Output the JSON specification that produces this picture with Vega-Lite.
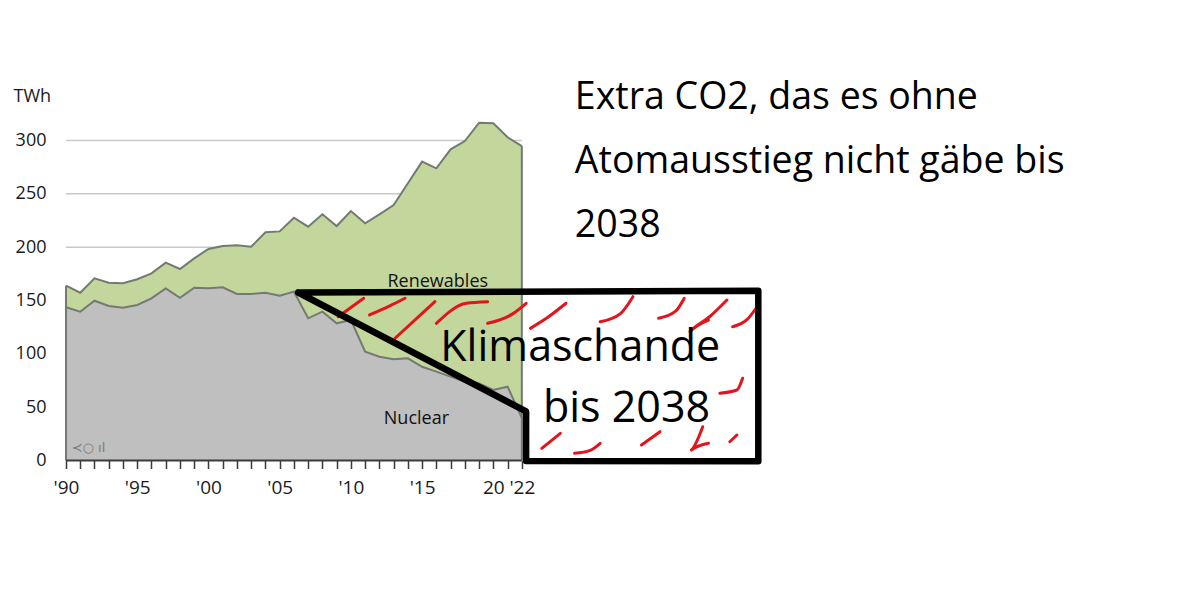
{
  "$schema": "https://vega.github.io/schema/vega-lite/v6.json",
  "width": 698,
  "height": 320,
  "autosize": {"type": "none"},
  "padding": {"left": 66, "top": 140.5, "right": 436, "bottom": 150.5},
  "background": "white",
  "config": {"view": {"stroke": null}, "font": "Open Sans", "axis": {"labelOverlap": false, "labelBound": false, "labelFlush": false, "grid": false, "domain": false}},
  "data": {"values": [{"kind": "annotation"}]},
  "datasets": {
    "energy": [
      {"year": 1990, "nuclear": 143.6, "total": 163.9},
      {"year": 1991, "nuclear": 139.5, "total": 157.3},
      {"year": 1992, "nuclear": 149.8, "total": 170.8},
      {"year": 1993, "nuclear": 144.8, "total": 166.7},
      {"year": 1994, "nuclear": 143.3, "total": 166.1},
      {"year": 1995, "nuclear": 145.8, "total": 169.9},
      {"year": 1996, "nuclear": 152.0, "total": 175.5},
      {"year": 1997, "nuclear": 161.4, "total": 185.5},
      {"year": 1998, "nuclear": 152.6, "total": 179.5},
      {"year": 1999, "nuclear": 162.0, "total": 189.5},
      {"year": 2000, "nuclear": 161.4, "total": 198.3},
      {"year": 2001, "nuclear": 162.4, "total": 201.1},
      {"year": 2002, "nuclear": 156.1, "total": 201.7},
      {"year": 2003, "nuclear": 156.1, "total": 200.5},
      {"year": 2004, "nuclear": 157.3, "total": 213.9},
      {"year": 2005, "nuclear": 154.5, "total": 214.8},
      {"year": 2006, "nuclear": 158.3, "total": 227.6},
      {"year": 2007, "nuclear": 133.3, "total": 219.2},
      {"year": 2008, "nuclear": 139.5, "total": 230.8},
      {"year": 2009, "nuclear": 128.6, "total": 219.8},
      {"year": 2010, "nuclear": 131.7, "total": 233.9},
      {"year": 2011, "nuclear": 102.0, "total": 222.4},
      {"year": 2012, "nuclear": 97.3, "total": 230.8},
      {"year": 2013, "nuclear": 94.9, "total": 239.5},
      {"year": 2014, "nuclear": 95.8, "total": 259.9},
      {"year": 2015, "nuclear": 87.9, "total": 280.2},
      {"year": 2016, "nuclear": 83.3, "total": 273.9},
      {"year": 2017, "nuclear": 78.6, "total": 291.7},
      {"year": 2018, "nuclear": 73.9, "total": 299.5},
      {"year": 2019, "nuclear": 72.3, "total": 316.7},
      {"year": 2020, "nuclear": 66.1, "total": 316.1},
      {"year": 2021, "nuclear": 69.2, "total": 303.0},
      {"year": 2022, "nuclear": 40.0, "total": 294.8}
    ],
    "grid": [{"twh": 50}, {"twh": 100}, {"twh": 150}, {"twh": 200}, {"twh": 250}, {"twh": 300}],
    "outline": [
      {"step": 0, "year": 2006.3, "twh": 157.5},
      {"step": 1, "year": 2038.6, "twh": 159.2},
      {"step": 2, "year": 2038.6, "twh": -0.6},
      {"step": 3, "year": 2022.3, "twh": -0.4},
      {"step": 4, "year": 2022.3, "twh": 46},
      {"step": 5, "year": 2006.3, "twh": 157.5}
    ],
    "hatch": [
      {"stroke": 1, "step": 0, "year": 2009.1, "twh": 134.8},
      {"stroke": 1, "step": 1, "year": 2010.9, "twh": 152.1},
      {"stroke": 2, "step": 0, "year": 2011.3, "twh": 136.4},
      {"stroke": 2, "step": 1, "year": 2012.8, "twh": 145.5},
      {"stroke": 2, "step": 2, "year": 2013.8, "twh": 152.1},
      {"stroke": 3, "step": 0, "year": 2013.1, "twh": 114.6},
      {"stroke": 3, "step": 1, "year": 2015.9, "twh": 148.9},
      {"stroke": 4, "step": 0, "year": 2016.0, "twh": 128.6},
      {"stroke": 4, "step": 1, "year": 2018.1, "twh": 147.4},
      {"stroke": 4, "step": 2, "year": 2019.6, "twh": 148.9},
      {"stroke": 5, "step": 0, "year": 2019.6, "twh": 128.6},
      {"stroke": 5, "step": 1, "year": 2021.3, "twh": 137.0},
      {"stroke": 5, "step": 2, "year": 2022.3, "twh": 147.4},
      {"stroke": 6, "step": 0, "year": 2022.6, "twh": 123.9},
      {"stroke": 6, "step": 1, "year": 2023.8, "twh": 134.0},
      {"stroke": 6, "step": 2, "year": 2025.1, "twh": 147.4},
      {"stroke": 7, "step": 0, "year": 2027.5, "twh": 130.1},
      {"stroke": 7, "step": 1, "year": 2028.9, "twh": 137.5},
      {"stroke": 7, "step": 2, "year": 2029.8, "twh": 153.6},
      {"stroke": 8, "step": 0, "year": 2031.6, "twh": 133.3},
      {"stroke": 8, "step": 1, "year": 2032.8, "twh": 140.0},
      {"stroke": 8, "step": 2, "year": 2033.4, "twh": 152.1},
      {"stroke": 9, "step": 0, "year": 2035.1, "twh": 131.7},
      {"stroke": 9, "step": 1, "year": 2033.8, "twh": 120.7},
      {"stroke": 9, "step": 2, "year": 2035.2, "twh": 135.0},
      {"stroke": 9, "step": 3, "year": 2036.4, "twh": 150.5},
      {"stroke": 10, "step": 0, "year": 2036.8, "twh": 125.4},
      {"stroke": 10, "step": 1, "year": 2037.8, "twh": 132.0},
      {"stroke": 10, "step": 2, "year": 2038.6, "twh": 145.8},
      {"stroke": 11, "step": 0, "year": 2035.9, "twh": 63.0},
      {"stroke": 11, "step": 1, "year": 2037.1, "twh": 66.1},
      {"stroke": 11, "step": 2, "year": 2037.5, "twh": 77.1},
      {"stroke": 12, "step": 0, "year": 2023.4, "twh": 11.4},
      {"stroke": 12, "step": 1, "year": 2024.7, "twh": 25.5},
      {"stroke": 13, "step": 0, "year": 2025.7, "twh": 6.7},
      {"stroke": 13, "step": 1, "year": 2026.8, "twh": 9.5},
      {"stroke": 13, "step": 2, "year": 2027.5, "twh": 16.1},
      {"stroke": 14, "step": 0, "year": 2030.4, "twh": 14.5},
      {"stroke": 14, "step": 1, "year": 2031.7, "twh": 27.0},
      {"stroke": 15, "step": 0, "year": 2034.7, "twh": 31.7},
      {"stroke": 15, "step": 1, "year": 2033.9, "twh": 9.8},
      {"stroke": 15, "step": 2, "year": 2035.1, "twh": 16.1},
      {"stroke": 16, "step": 0, "year": 2036.6, "twh": 17.6},
      {"stroke": 16, "step": 1, "year": 2037.1, "twh": 23.9}
    ]
  },
  "layer": [
    {
      "data": {"name": "grid"},
      "mark": {"type": "rule", "color": "#c9c9c9", "strokeWidth": 1.5},
      "encoding": {
        "x": {"datum": 1990, "type": "quantitative",
          "scale": {"domain": [1990, 2039], "nice": false, "zero": false},
          "axis": {"title": null, "tickCount": 49, "tickMinStep": 1, "tickSize": 8, "tickColor": "#3a3a3a", "tickWidth": 1.5, "tickOpacity": {"condition": {"test": "datum.value > 2022", "value": 0}, "value": 1}, "labelExpr": "datum.value == 1990 ? \"'90\" : datum.value == 1995 ? \"'95\" : datum.value == 2000 ? \"'00\" : datum.value == 2005 ? \"'05\" : datum.value == 2010 ? \"'10\" : datum.value == 2015 ? \"'15\" : datum.value == 2020 ? \"20\" : datum.value == 2022 ? \"'22\" : \"\"", "labelFontSize": 19, "labelColor": "#1a1a1a", "labelPadding": 10, "labelOverlap": false, "labelFont": "Open Sans"}},
        "x2": {"datum": 2022},
        "y": {"field": "twh", "type": "quantitative",
          "scale": {"domain": [0, 300], "nice": false, "zero": true},
          "axis": {"title": "TWh", "titleAngle": 0, "titleAlign": "left", "titleBaseline": "alphabetic", "titleX": -53, "titleY": -39, "titleFontSize": 18, "titleFontWeight": "normal", "titleColor": "#1a1a1a", "titleFont": "Open Sans", "ticks": false, "tickCount": 6, "labelFontSize": 18, "labelColor": "#1a1a1a", "labelPadding": 20, "labelFont": "Open Sans"}}
      }
    },
    {
      "data": {"name": "energy"},
      "mark": {"type": "area", "color": "#c3d69b"},
      "encoding": {
        "x": {"field": "year", "type": "quantitative",
          "axis": {"title": null, "tickCount": 49, "tickMinStep": 1, "tickSize": 8, "tickColor": "#3a3a3a", "tickWidth": 1.5, "tickOpacity": {"condition": {"test": "datum.value > 2022", "value": 0}, "value": 1}, "labelExpr": "datum.value == 1990 ? \"'90\" : datum.value == 1995 ? \"'95\" : datum.value == 2000 ? \"'00\" : datum.value == 2005 ? \"'05\" : datum.value == 2010 ? \"'10\" : datum.value == 2015 ? \"'15\" : datum.value == 2020 ? \"20\" : datum.value == 2022 ? \"'22\" : \"\"", "labelFontSize": 19, "labelColor": "#1a1a1a", "labelPadding": 10, "labelOverlap": false, "labelFont": "Open Sans"}},
        "y": {"field": "total", "type": "quantitative",
          "axis": {"title": "TWh", "titleAngle": 0, "titleAlign": "left", "titleBaseline": "alphabetic", "titleX": -53, "titleY": -39, "titleFontSize": 18, "titleFontWeight": "normal", "titleColor": "#1a1a1a", "titleFont": "Open Sans", "ticks": false, "tickCount": 6, "labelFontSize": 18, "labelColor": "#1a1a1a", "labelPadding": 20, "labelFont": "Open Sans"}}
      }
    },
    {
      "data": {"name": "energy"},
      "mark": {"type": "area", "color": "#bfbfbf"},
      "encoding": {
        "x": {"field": "year", "type": "quantitative"},
        "y": {"field": "nuclear", "type": "quantitative"}
      }
    },
    {
      "data": {"name": "energy"},
      "mark": {"type": "line", "color": "#737a73", "strokeWidth": 2},
      "encoding": {
        "x": {"field": "year", "type": "quantitative"},
        "y": {"field": "total", "type": "quantitative"}
      }
    },
    {
      "data": {"name": "energy"},
      "mark": {"type": "line", "color": "#737a73", "strokeWidth": 2},
      "encoding": {
        "x": {"field": "year", "type": "quantitative"},
        "y": {"field": "nuclear", "type": "quantitative"}
      }
    },
    {
      "data": {"name": "energy"},
      "transform": [{"filter": "datum.year == 1990 || datum.year == 2022"}],
      "mark": {"type": "rule", "color": "#737a73", "strokeWidth": 2},
      "encoding": {
        "x": {"field": "year", "type": "quantitative"},
        "y": {"field": "total", "type": "quantitative"},
        "y2": {"datum": 0}
      }
    },
    {
      "mark": {"type": "rule", "color": "#3a3a3a", "strokeWidth": 2},
      "encoding": {
        "x": {"datum": 1990, "type": "quantitative"},
        "x2": {"datum": 2022},
        "y": {"datum": 0, "type": "quantitative"}
      }
    },
    {
      "mark": {"type": "text", "font": "DejaVu Sans", "fontSize": 13, "color": "#7a7a7a", "align": "left", "baseline": "middle"},
      "encoding": {
        "x": {"datum": 1990.4, "type": "quantitative"},
        "y": {"datum": 12, "type": "quantitative"},
        "text": {"value": "≺○ ıl"}
      }
    },
    {
      "mark": {"type": "text", "font": "Open Sans", "fontSize": 18, "color": "#111111", "align": "center", "baseline": "alphabetic"},
      "encoding": {
        "x": {"datum": 2016.1, "type": "quantitative"},
        "y": {"datum": 162.9, "type": "quantitative"},
        "text": {"value": "Renewables"}
      }
    },
    {
      "mark": {"type": "text", "font": "Open Sans", "fontSize": 18, "color": "#111111", "align": "center", "baseline": "alphabetic"},
      "encoding": {
        "x": {"datum": 2014.6, "type": "quantitative"},
        "y": {"datum": 34.2, "type": "quantitative"},
        "text": {"value": "Nuclear"}
      }
    },
    {
      "data": {"name": "hatch"},
      "mark": {"type": "line", "color": "#e3141b", "strokeWidth": 3, "strokeCap": "round", "strokeJoin": "round", "interpolate": "monotone"},
      "encoding": {
        "x": {"field": "year", "type": "quantitative"},
        "y": {"field": "twh", "type": "quantitative"},
        "detail": {"field": "stroke", "type": "nominal"},
        "order": {"field": "step", "type": "quantitative"}
      }
    },
    {
      "data": {"name": "outline"},
      "mark": {"type": "line", "color": "#000000", "strokeWidth": 6.5, "strokeCap": "round", "strokeJoin": "round"},
      "encoding": {
        "x": {"field": "year", "type": "quantitative"},
        "y": {"field": "twh", "type": "quantitative"},
        "order": {"field": "step", "type": "quantitative"}
      }
    },
    {
      "mark": {"type": "text", "font": "Open Sans", "fontSize": 43, "color": "#000000", "align": "center", "baseline": "alphabetic"},
      "encoding": {
        "x": {"datum": 2026.1, "type": "quantitative"},
        "y": {"datum": 93.6, "type": "quantitative"},
        "text": {"value": "Klimaschande"}
      }
    },
    {
      "mark": {"type": "text", "font": "Open Sans", "fontSize": 43, "color": "#000000", "align": "center", "baseline": "alphabetic"},
      "encoding": {
        "x": {"datum": 2029.35, "type": "quantitative"},
        "y": {"datum": 36.4, "type": "quantitative"},
        "text": {"value": "bis 2038"}
      }
    },
    {
      "mark": {"type": "text", "font": "Open Sans", "fontSize": 37.5, "color": "#000000", "align": "left", "baseline": "top", "lineHeight": 64},
      "encoding": {
        "x": {"datum": 2025.72, "type": "quantitative"},
        "y": {"datum": 357.3, "type": "quantitative"},
        "text": {"value": ["Extra CO2, das es ohne", "Atomausstieg nicht gäbe bis", "2038"]}
      }
    }
  ]
}
